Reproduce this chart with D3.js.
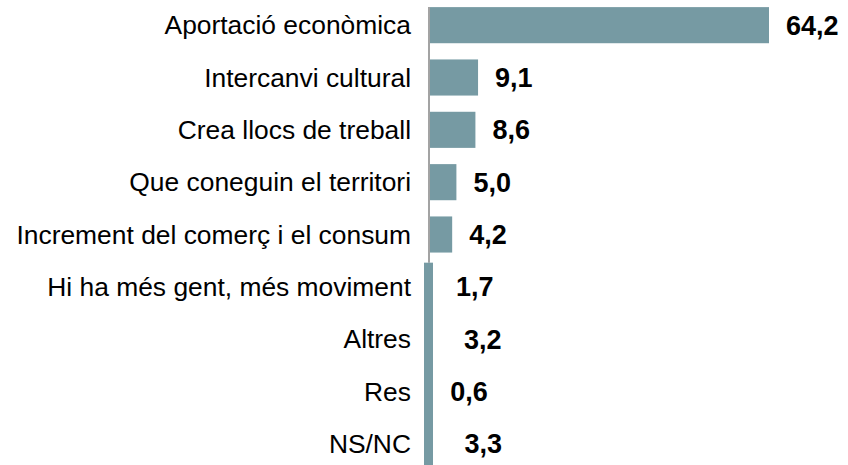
<!DOCTYPE html>
<html>
<head>
<meta charset="utf-8">
<script src="https://cdn.jsdelivr.net/npm/d3@7"></script>
<style>
  body { margin: 0; background: #fff; }
  text { font-family: "Liberation Sans", Arial, sans-serif; }
</style>
</head>
<body>
<div id="chart"></div>
<script>
const categories = [
    "Aportació econòmica",
    "Intercanvi cultural",
    "Crea llocs de treball",
    "Que coneguin el territori",
    "Increment del comerç i el consum",
    "Hi ha més gent, més moviment",
    "Altres",
    "Res",
    "NS/NC"
];
const values = [64.2, 9.1, 8.6, 5.0, 4.2, 1.7, 3.2, 0.6, 3.3];
const valueLabels = ["64,2", "9,1", "8,6", "5,0", "4,2", "1,7", "3,2", "0,6", "3,3"];

const width = 848, height = 465;
const x0 = 430;

const svg = d3.select("#chart").append("svg")
    .attr("width", width)
    .attr("height", height);

const x = d3.scaleLinear()
    .domain([0, 64.2])
    .range([x0, 769]);

const y = d3.scaleBand()
    .domain(categories)
    .range([-1, 470])
    .paddingInner(0.31)
    .paddingOuter(0.155);

const rows = categories.map((c, i) => ({ cat: c, value: values[i], label: valueLabels[i] }));

// in the original the lower rows are hidden behind a thick strip on the axis
const stripTop = y(categories[5]) - (y.step() - y.bandwidth()) / 2 + 2;

svg.append("clipPath")
    .attr("id", "barclip")
    .append("path")
    .attr("d", `M0,0H${width}V${stripTop}H433V${height}H0Z`);

svg.append("g")
    .attr("clip-path", "url(#barclip)")
    .selectAll("rect.bar")
    .data(rows)
    .enter()
    .append("rect")
    .attr("class", "bar")
    .attr("x", x(0))
    .attr("y", d => y(d.cat))
    .attr("width", d => x(d.value) - x(0))
    .attr("height", y.bandwidth())
    .style("fill", "#769aa3");

svg.append("line")
    .attr("x1", 429).attr("x2", 429)
    .attr("y1", 7).attr("y2", stripTop)
    .style("stroke", "#8c8c8c")
    .style("stroke-width", 1.6);
svg.append("rect")
    .attr("x", 424)
    .attr("y", stripTop)
    .attr("width", 9)
    .attr("height", height - stripTop)
    .style("fill", "#769aa3");

svg.selectAll("text.cat")
    .data(rows)
    .enter()
    .append("text")
    .attr("class", "cat")
    .attr("x", 411)
    .attr("y", d => y(d.cat) + y.bandwidth() / 2)
    .attr("dy", "0.35em")
    .attr("text-anchor", "end")
    .style("font-size", "26.4px")
    .style("fill", "#000")
    .text(d => d.cat);

svg.selectAll("text.val")
    .data(rows)
    .enter()
    .append("text")
    .attr("class", "val")
    .attr("x", d => x(d.value) + 17)
    .attr("y", d => y(d.cat) + y.bandwidth() / 2)
    .attr("dy", "0.35em")
    .style("font-size", "27px")
    .style("font-weight", "bold")
    .style("fill", "#000")
    .text(d => d.label);
</script>
</body>
</html>
